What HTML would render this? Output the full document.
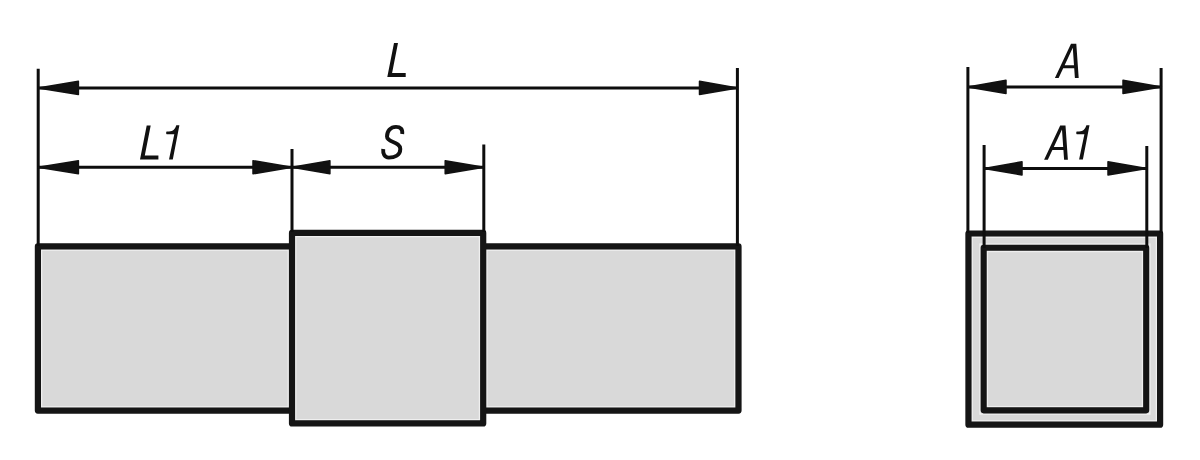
<!DOCTYPE html>
<html><head><meta charset="utf-8">
<style>
html,body{margin:0;padding:0;background:#fff;width:1200px;height:460px;overflow:hidden}
svg{display:block}
</style></head>
<body>
<svg width="1200" height="460" viewBox="0 0 1200 460">

<!-- left drawing -->
<rect x="37.9" y="246.4" width="700.6" height="164.2" fill="#d9d9d9"/>
<rect x="41.6" y="250.1" width="693.2" height="156.8" fill="none" stroke="#efefef" stroke-width="1.4"/>
<rect x="37.9" y="246.4" width="700.6" height="164.2" fill="none" stroke="#151515" stroke-width="6.2" stroke-linejoin="round"/>
<rect x="292" y="232.9" width="191.2" height="190.5" fill="#d9d9d9"/>
<path d="M288.3 250.1V406.9M486.9 250.1V406.9" stroke="#efefef" stroke-width="1.4"/>
<rect x="295.7" y="236.6" width="183.8" height="183.1" fill="none" stroke="#efefef" stroke-width="1.4"/>
<rect x="292" y="232.9" width="191.2" height="190.5" fill="none" stroke="#151515" stroke-width="6.2" stroke-linejoin="round"/>
<!-- right drawing -->
<rect x="968.45" y="233.5" width="191.65" height="191.15" fill="#d9d9d9"/>
<rect x="972.15" y="237.2" width="184.25" height="183.75" fill="none" stroke="#efefef" stroke-width="1.4"/>
<rect x="979.97" y="244.1" width="169.93" height="169.95" fill="none" stroke="#efefef" stroke-width="1.4"/>
<rect x="987.37" y="251.5" width="155.13" height="155.15" fill="none" stroke="#efefef" stroke-width="1.4"/>
<rect x="968.45" y="233.5" width="191.65" height="191.15" fill="none" stroke="#151515" stroke-width="6.2" stroke-linejoin="round"/>
<rect x="983.67" y="247.8" width="162.53" height="162.55" fill="none" stroke="#151515" stroke-width="6.1" stroke-linejoin="round"/>
<!-- extension & dimension lines -->
<g stroke="#0d0d0d" stroke-width="3" fill="none">
  <path d="M38.2 68.8V246M737.4 67.9V246M292 149V232M483.8 144.4V232"/>
  <path d="M967.9 67V233M1161.1 68.1V233M984.1 145V248M1146.8 146.1V248"/>
  <path d="M38 87.9H737.6M38 167.25H483.8M968 86.9H1161.3M984.2 168.4H1146.8"/>
</g>
<g fill="#111" stroke="#111" stroke-width="1.5" stroke-linejoin="round">
  <path d="M38.2 87.9L78.4 81.3V94.5Z"/>
  <path d="M737.5 87.9L699.5 81.3V94.5Z"/>
  <path d="M38.2 167.25L78.4 160.65V173.85Z"/>
  <path d="M292 167.25L253 160.65V173.85Z"/>
  <path d="M292 167.25L329.9 160.65V173.85Z"/>
  <path d="M483.8 167.25L445.2 160.65V173.85Z"/>
  <path d="M967.9 86.9L1006 80.3V93.5Z"/>
  <path d="M1161.4 86.9L1123 80.3V93.5Z"/>
  <path d="M984.2 168.4L1022 161.8V175Z"/>
  <path d="M1146.7 168.4L1108 161.8V175Z"/>
</g>
<g fill="#111">
  <path transform="translate(387.3 77)" d="M6.7,-34.1 H10.7 L4.79,-4 H18.4 V0 H0 Z"/>
  <path transform="translate(140 159.6)" d="M6.7,-34.1 H10.7 L4.79,-4 H18.4 V0 H0 Z"/>
  <path transform="translate(169 159.6)" d="M0,0 H3.8 L10.4,-34.3 H7.3 C6.2,-30.5 4.2,-28.2 0,-28.2 H-2.2 Q-2.8,-28.2 -2.8,-27.4 V-26 Q-2.8,-25.3 -2.2,-25.3 H5.3 Z"/>
  <path transform="translate(1055 78)" fill-rule="evenodd" d="M16,-34.2 H21.3 L23.7,0 H19.9 L19.21,-9.8 H8.21 L3.6,0 H-0.1 Z M17.78,-30.13 L19.0,-12.8 H9.63 Z"/>
  <path transform="translate(1044.2 159.7)" fill-rule="evenodd" d="M16,-34.2 H21.3 L23.7,0 H19.9 L19.21,-9.8 H8.21 L3.6,0 H-0.1 Z M17.78,-30.13 L19.0,-12.8 H9.63 Z"/>
  <path transform="translate(1079.1 159.6)" d="M0,0 H3.8 L10.4,-34.3 H7.3 C6.2,-30.5 4.2,-28.2 0,-28.2 H-2.2 Q-2.8,-28.2 -2.8,-27.4 V-26 Q-2.8,-25.3 -2.2,-25.3 H5.3 Z"/>
</g>
<path fill="none" stroke="#111" stroke-width="3.9" d="M402.2,134.1 C402.8,129 400.5,126.9 396,126.9 C390.5,126.9 387,131 387,136.5 C387,142.8 400.3,141.2 400.3,149 C400.3,155.2 394.5,157.6 388.8,157.6 C384.5,157.6 382.8,153.8 383.2,149"/>
</svg>
</body></html>
